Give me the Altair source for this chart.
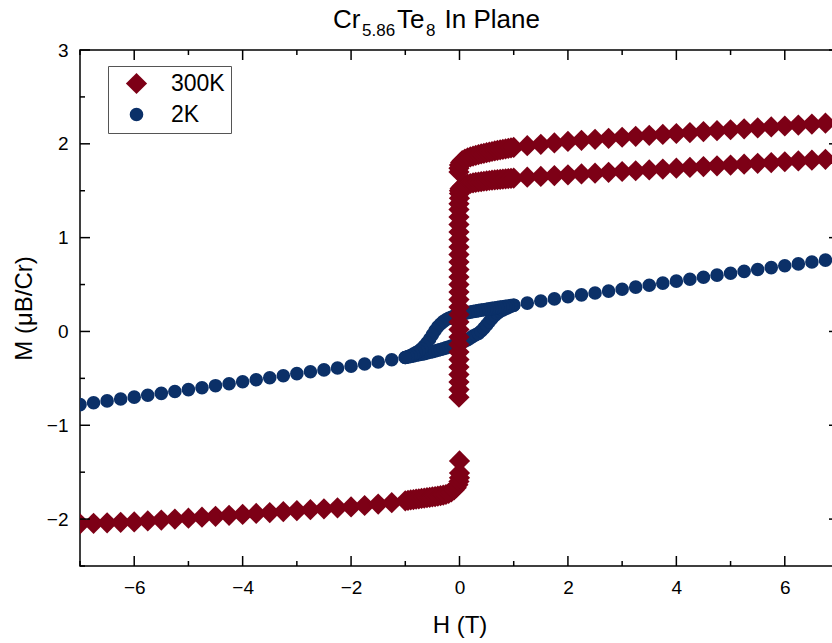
import altair as alt
import pandas as pd

# ---------------- data ----------------
series_names = ["300K", "2K"]

# 300K, negative field, sparse
h300_a = [-7.0, -6.75, -6.5, -6.25, -6.0, -5.75, -5.5, -5.25, -5.0, -4.75, -4.5, -4.25,
          -4.0, -3.75, -3.5, -3.25, -3.0, -2.75, -2.5, -2.25, -2.0, -1.75, -1.5, -1.25]
m300_a = [-2.05, -2.045, -2.04, -2.035, -2.03, -2.02, -2.01, -2.0, -1.99, -1.98, -1.97, -1.96,
          -1.95, -1.94, -1.93, -1.92, -1.91, -1.90, -1.89, -1.88, -1.87, -1.855, -1.84, -1.825]
# 300K, negative field, dense part up to H = 0
h300_b = [-1.0, -0.95, -0.9, -0.85, -0.8, -0.75, -0.7, -0.65, -0.6, -0.55, -0.5, -0.45, -0.4,
          -0.35, -0.3, -0.25, -0.2, -0.15, -0.1, -0.06, -0.03, -0.01, 0.0, 0.0, 0.0]
m300_b = [-1.805, -1.8, -1.796, -1.792, -1.788, -1.784, -1.78, -1.776, -1.772, -1.768, -1.764,
          -1.76, -1.755, -1.75, -1.745, -1.738, -1.725, -1.71, -1.69, -1.665, -1.635, -1.6,
          -1.56, -1.51, -1.38]
# 300K, vertical jump at H ~ 0
h300_c = [-0.01, -0.01, -0.01, -0.01, -0.01, -0.01, -0.01, -0.01, -0.01, -0.01, -0.01, -0.01,
          -0.01, -0.01, -0.01, -0.01, -0.01, -0.01, -0.01, -0.01, -0.01, -0.01, -0.01, -0.01,
          -0.01, -0.01, -0.01, 0.0, 0.0]
m300_c = [-0.70, -0.62, -0.54, -0.46, -0.38, -0.30, -0.22, -0.14, -0.06, 0.02, 0.10, 0.18,
          0.26, 0.34, 0.42, 0.50, 0.58, 0.66, 0.74, 0.82, 0.90, 0.98, 1.06, 1.14, 1.22, 1.30,
          1.36, 1.42, 1.47]
# 300K, positive field, lower branch
h300_d = [0.0, 0.01, 0.03, 0.06, 0.1, 0.15, 0.2, 0.25, 0.3, 0.35, 0.4, 0.45, 0.5, 0.55, 0.6,
          0.65, 0.7, 0.75, 0.8, 0.85, 0.9, 0.95, 1.0,
          1.25, 1.5, 1.75, 2.0, 2.25, 2.5, 2.75, 3.0, 3.25, 3.5, 3.75, 4.0, 4.25, 4.5, 4.75,
          5.0, 5.25, 5.5, 5.75, 6.0, 6.25, 6.5, 6.75]
m300_d = [1.50, 1.52, 1.535, 1.55, 1.56, 1.57, 1.577, 1.583, 1.588, 1.593, 1.597, 1.601, 1.605,
          1.609, 1.612, 1.615, 1.618, 1.621, 1.624, 1.627, 1.63, 1.632, 1.635,
          1.644, 1.652, 1.661, 1.670, 1.679, 1.687, 1.696, 1.705, 1.713, 1.722, 1.731, 1.740,
          1.748, 1.757, 1.766, 1.774, 1.783, 1.792, 1.800, 1.809, 1.818, 1.826, 1.835]
# 300K, positive field, upper branch
h300_e = [-0.01, -0.01, 0.0, 0.02, 0.05, 0.1, 0.15, 0.2, 0.25, 0.3, 0.35, 0.4, 0.45, 0.5, 0.55,
          0.6, 0.65, 0.7, 0.75, 0.8, 0.85, 0.9, 0.95, 1.0,
          1.25, 1.5, 1.75, 2.0, 2.25, 2.5, 2.75, 3.0, 3.25, 3.5, 3.75, 4.0, 4.25, 4.5, 4.75,
          5.0, 5.25, 5.5, 5.75, 6.0, 6.25, 6.5, 6.75]
m300_e = [1.70, 1.74, 1.775, 1.80, 1.82, 1.837, 1.85, 1.86, 1.869, 1.877, 1.885, 1.892, 1.899,
          1.906, 1.912, 1.918, 1.924, 1.93, 1.936, 1.941, 1.946, 1.951, 1.956, 1.961,
          1.98, 1.995, 2.01, 2.025, 2.037, 2.048, 2.059, 2.07, 2.08, 2.09, 2.10, 2.11, 2.12,
          2.13, 2.14, 2.15, 2.16, 2.17, 2.18, 2.19, 2.20, 2.21, 2.22]

# 2K, negative field, sparse
h2_a = [-7.0, -6.75, -6.5, -6.25, -6.0, -5.75, -5.5, -5.25, -5.0, -4.75, -4.5, -4.25,
        -4.0, -3.75, -3.5, -3.25, -3.0, -2.75, -2.5, -2.25, -2.0, -1.75, -1.5, -1.25]
m2_a = [-0.78, -0.76, -0.74, -0.72, -0.70, -0.68, -0.66, -0.64, -0.62, -0.60, -0.578, -0.557,
        -0.536, -0.515, -0.493, -0.472, -0.45, -0.43, -0.41, -0.39, -0.37, -0.347, -0.325, -0.302]
# 2K, loop, ascending branch
h2_b = [-1.0, -0.95, -0.9, -0.85, -0.8, -0.75, -0.7, -0.65, -0.6, -0.55, -0.5, -0.45, -0.4,
        -0.35, -0.3, -0.25, -0.2, -0.15, -0.1, -0.05, 0.0, 0.05, 0.1, 0.15, 0.2, 0.25, 0.3,
        0.35, 0.4, 0.45, 0.5, 0.55, 0.6, 0.65, 0.7, 0.75, 0.8, 0.85, 0.9, 0.95, 1.0]
m2_b = [-0.278, -0.272, -0.266, -0.26, -0.254, -0.248, -0.242, -0.236, -0.229, -0.222, -0.215,
        -0.208, -0.2, -0.192, -0.184, -0.175, -0.165, -0.155, -0.145, -0.135,
        -0.125, -0.113, -0.1, -0.088, -0.07, -0.05, -0.035, -0.02, 0.005, 0.035, 0.07, 0.105,
        0.14, 0.17, 0.195, 0.215, 0.23, 0.243, 0.256, 0.268, 0.28]
# 2K, loop, descending branch
h2_c = [1.0, 0.95, 0.9, 0.85, 0.8, 0.75, 0.7, 0.65, 0.6, 0.55, 0.5, 0.45, 0.4, 0.35, 0.3, 0.25,
        0.2, 0.15, 0.1, 0.05, 0.0, -0.05, -0.1, -0.15, -0.2, -0.25, -0.3, -0.35, -0.4, -0.45,
        -0.5, -0.55, -0.6, -0.65, -0.7, -0.75, -0.8, -0.85, -0.9, -0.95, -1.0]
m2_c = [0.28, 0.276, 0.272, 0.268, 0.263, 0.259, 0.255, 0.25, 0.246, 0.241, 0.237, 0.232, 0.227,
        0.222, 0.217, 0.212, 0.206, 0.2, 0.194, 0.187, 0.18, 0.172, 0.163, 0.152, 0.14, 0.125,
        0.105, 0.08, 0.05, 0.01, -0.035, -0.08, -0.12, -0.155, -0.185, -0.208, -0.226, -0.242,
        -0.256, -0.268, -0.278]
# 2K, positive field, sparse
h2_d = [1.25, 1.5, 1.75, 2.0, 2.25, 2.5, 2.75, 3.0, 3.25, 3.5, 3.75, 4.0, 4.25, 4.5, 4.75,
        5.0, 5.25, 5.5, 5.75, 6.0, 6.25, 6.5, 6.75]
m2_d = [0.302, 0.325, 0.347, 0.37, 0.39, 0.41, 0.43, 0.45, 0.472, 0.493, 0.515, 0.536, 0.557,
        0.578, 0.60, 0.62, 0.64, 0.66, 0.68, 0.70, 0.72, 0.74, 0.76]

# axis tick values
x_major = [-6, -4, -2, 0, 2, 4, 6]
x_minor = [-7, -5, -3, -1, 1, 3, 5]
y_major = [-2, -1, 0, 1, 2, 3]
y_minor = [-2.5, -1.5, -0.5, 0.5, 1.5, 2.5]

# ---------------- build ----------------
FONT = "Liberation Sans"
RED = "#7d0016"
BLUE = "#0b3068"
W, HGT = 759, 516

rows = []
for hs, ms in [(h2_a, m2_a), (h2_b, m2_b), (h2_c, m2_c), (h2_d, m2_d)]:
    rows += [{"H": h, "M": m, "series": "2K"} for h, m in zip(hs, ms)]
for hs, ms in [(h300_a, m300_a), (h300_b, m300_b), (h300_c, m300_c), (h300_d, m300_d), (h300_e, m300_e)]:
    rows += [{"H": h, "M": m, "series": "300K"} for h, m in zip(hs, ms)]
df = pd.DataFrame(rows)

xscale = alt.Scale(domain=[-7, 7], nice=False, zero=False)
yscale = alt.Scale(domain=[-2.5, 3], nice=False, zero=False)

xaxis = alt.Axis(values=x_major, ticks=False, domain=False, grid=False,
                 labelFont=FONT, labelFontSize=19, labelColor="black", labelPadding=12,
                 title="H (T)", titleFont=FONT, titleFontSize=24,
                 titleFontWeight="normal", titleColor="black", titlePadding=16)
yaxis = alt.Axis(values=y_major, ticks=False, domain=False, grid=False,
                 labelFont=FONT, labelFontSize=19, labelColor="black", labelPadding=12,
                 title="M (μB/Cr)", titleFont=FONT, titleFontSize=24,
                 titleFontWeight="normal", titleColor="black", titlePadding=10)

leg = alt.Legend(orient="none", legendX=28, legendY=16, title=None, padding=6,
                 symbolOffset=11, labelOffset=23, labelFont=FONT, labelFontSize=23,
                 labelColor="black", symbolStrokeWidth=0, rowPadding=7,
                 strokeColor="#555555", fillColor="white")

points = alt.Chart(df).mark_point(filled=True, opacity=1, strokeWidth=0, clip=True).encode(
    x=alt.X("H:Q", scale=xscale, axis=xaxis),
    y=alt.Y("M:Q", scale=yscale, axis=yaxis),
    color=alt.Color("series:N", scale=alt.Scale(domain=series_names, range=[RED, BLUE]), legend=leg),
    shape=alt.Shape("series:N", scale=alt.Scale(domain=series_names, range=["diamond", "circle"]), legend=leg),
    size=alt.Size("series:N", scale=alt.Scale(type="ordinal", domain=series_names, range=[450, 185]), legend=leg),
)

def xticks(vals, length, top):
    d = pd.DataFrame({"H": vals})
    if top:
        y0, y1 = 0, length
    else:
        y0, y1 = HGT, HGT - length
    return alt.Chart(d).mark_rule(color="black", strokeWidth=1.5).encode(
        x=alt.X("H:Q", scale=xscale, axis=xaxis), y=alt.value(y0), y2=alt.value(y1))

def yticks(vals, length, right):
    d = pd.DataFrame({"M": vals})
    if right:
        x0, x1 = W, W - length
    else:
        x0, x1 = 0, length
    return alt.Chart(d).mark_rule(color="black", strokeWidth=1.5).encode(
        y=alt.Y("M:Q", scale=yscale, axis=yaxis), x=alt.value(x0), x2=alt.value(x1))

ticks = [xticks(x_major, 10, False), xticks(x_minor, 5, False),
         xticks(x_major, 10, True), xticks(x_minor, 5, True),
         yticks(y_major, 10, False), yticks(y_minor, 5, False),
         yticks(y_major, 10, True), yticks(y_minor, 5, True)]

one = pd.DataFrame({"k": [0]})

def txt(s, x, y, size):
    return alt.Chart(one).mark_text(text=s, align="left", baseline="alphabetic",
                                    font=FONT, fontSize=size, color="black").encode(
        x=alt.value(x), y=alt.value(y))

title = [txt("Cr", 253, -22, 26), txt("5.86", 282, -14, 17), txt("Te", 317, -22, 26),
         txt("8", 346, -14, 17), txt("In Plane", 364.5, -22, 26)]

chart = alt.layer(points, *ticks, *title).properties(
    width=W, height=HGT,
    autosize=alt.AutoSizeParams(type="none"),
    padding={"left": 80, "top": 50, "right": -7, "bottom": 77},
).configure_view(stroke="black", strokeWidth=1.5)

chart.save("out.html", embed_options={"renderer": "svg", "actions": False})
